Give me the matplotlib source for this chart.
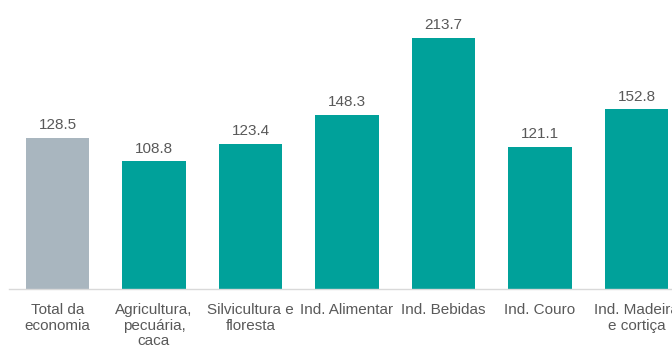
import matplotlib
matplotlib.use("Agg")
import matplotlib.pyplot as plt

categories = ["Total da\neconomia", "Agricultura,\npecuária,\ncaca", "Silvicultura e\nfloresta",
              "Ind. Alimentar", "Ind. Bebidas", "Ind. Couro", "Ind. Madeira\ne cortiça"]
values = [128.5, 108.8, 123.4, 148.3, 213.7, 121.1, 152.8]
colors = ["#A9B6BF"] + ["#00A19A"] * 6

plt.rcParams["font.family"] = ["Liberation Sans", "DejaVu Sans"]

W, H = 672, 348
fig = plt.figure(figsize=(W / 100, H / 100), dpi=100)
# the axes run past the right edge of the figure, so the last slot is cut off
slot = 96.5
left_px = 57.5 - slot / 2
ax = fig.add_axes([left_px / W, (H - 289) / H, slot * 7 / W, 289 / H])

x = range(len(values))
bars = ax.bar(x, values, width=0.655, color=colors)
ax.set_xlim(-0.5, len(values) - 0.5)
ax.set_ylim(0, 246)

for xi, v in zip(x, values):
    ax.annotate(f"{v:.1f}", (xi, v), xytext=(0, 4), textcoords="offset points",
                ha="center", va="bottom", fontsize=11, color="#595959")

ax.set_xticks(list(x))
ax.set_xticklabels(categories, fontsize=11, color="#595959", linespacing=1.15)
ax.tick_params(axis="x", length=0, pad=10)
ax.set_yticks([])
for s in ["top", "right", "left"]:
    ax.spines[s].set_visible(False)
ax.spines["bottom"].set_color("#D9D9D9")
ax.spines["bottom"].set_linewidth(1.0)

fig.savefig("out.png", dpi=100)
